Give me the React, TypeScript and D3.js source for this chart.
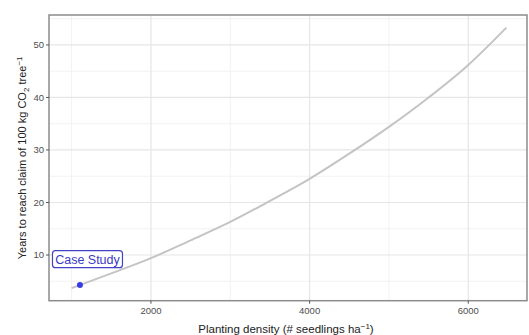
import * as d3 from "d3";

const W = 529;
const H = 335;
const MARGIN = { top: 15, right: 2, bottom: 34.3, left: 49 };

// curve
const density = [1000, 1500, 2000, 2500, 3000, 3500, 4000, 4500, 5000, 5500, 6000, 6480];
const years = [3.7, 6.5, 9.4, 12.8, 16.3, 20.3, 24.5, 29.3, 34.4, 40.0, 46.2, 53.3];

const caseStudy = { density: 1105, years: 4.3, label: "Case Study" };
const labelPos = { density: 1200, years: 9.2 };

const xTicks = [2000, 4000, 6000];
const xMinor = [1000, 3000, 5000];
const yTicks = [10, 20, 30, 40, 50];
const yMinor = [5, 15, 25, 35, 45, 55];

const FONT = "'Liberation Sans', Arial, sans-serif";

export default function App() {
  const boundsWidth = W - MARGIN.left - MARGIN.right;
  const boundsHeight = H - MARGIN.top - MARGIN.bottom;

  const xScale = d3.scaleLinear().domain([715, 6740]).range([0, boundsWidth]);
  const yScale = d3.scaleLinear().domain([1.3, 55.7]).range([boundsHeight, 0]);

  const line = d3
    .line<number>()
    .x((_, i) => xScale(density[i]))
    .y((d) => yScale(d))
    .curve(d3.curveMonotoneX);

  const lx = xScale(labelPos.density);
  const ly = yScale(labelPos.years);

  return (
    <svg
      width={W}
      height={H}
      style={{ position: "absolute", left: 0, top: 0, background: "#fff" }}
      fontFamily={FONT}
    >
      <g transform={`translate(${MARGIN.left},${MARGIN.top})`}>
        {/* grid */}
        {xMinor.map((t) => (
          <line key={"xm" + t} x1={xScale(t)} x2={xScale(t)} y1={0} y2={boundsHeight} stroke="#f2f2f2" strokeWidth={1} />
        ))}
        {yMinor.map((t) => (
          <line key={"ym" + t} x1={0} x2={boundsWidth} y1={yScale(t)} y2={yScale(t)} stroke="#f2f2f2" strokeWidth={1} />
        ))}
        {xTicks.map((t) => (
          <line key={"xg" + t} x1={xScale(t)} x2={xScale(t)} y1={0} y2={boundsHeight} stroke="#e6e6e6" strokeWidth={1.2} />
        ))}
        {yTicks.map((t) => (
          <line key={"yg" + t} x1={0} x2={boundsWidth} y1={yScale(t)} y2={yScale(t)} stroke="#e6e6e6" strokeWidth={1.2} />
        ))}

        {/* curve */}
        <path d={line(years) ?? ""} fill="none" stroke="#c4c4c4" strokeWidth={2} />

        {/* case study point + label */}
        <circle cx={xScale(caseStudy.density)} cy={yScale(caseStudy.years)} r={3} fill="#3b3be6" />
        <rect x={lx - 35} y={ly - 8.5} width={70} height={17} rx={3} fill="#fff" stroke="#4343c8" strokeWidth={1.2} />
        <text x={lx} y={ly + 4.3} textAnchor="middle" fontSize={12.5} fill="#3a3ac4">
          {caseStudy.label}
        </text>

        {/* panel border */}
        <rect x={0} y={0} width={boundsWidth} height={boundsHeight} fill="none" stroke="#8c8c8c" strokeWidth={1.5} />

        {/* x axis */}
        {xTicks.map((t) => (
          <g key={"xt" + t} transform={`translate(${xScale(t)},${boundsHeight})`}>
            <line y1={0} y2={3} stroke="#555" />
            <text y={13.5} textAnchor="middle" fontSize={9.5} fill="#4d4d4d">
              {t}
            </text>
          </g>
        ))}
        {/* y axis */}
        {yTicks.map((t) => (
          <g key={"yt" + t} transform={`translate(0,${yScale(t)})`}>
            <line x1={-3} x2={0} stroke="#555" />
            <text x={-5} dy="0.35em" textAnchor="end" fontSize={9.5} fill="#4d4d4d">
              {t}
            </text>
          </g>
        ))}
      </g>

      {/* axis titles */}
      <text x={MARGIN.left + boundsWidth / 2 - 2} y={333} textAnchor="middle" fontSize={11.5} fill="#222">
        Planting density (# seedlings ha
        <tspan dy={-4} fontSize={8}>−1</tspan>
        <tspan dy={4}>)</tspan>
      </text>
      <text
        transform={`translate(25.5,${MARGIN.top + boundsHeight / 2}) rotate(-90)`}
        textAnchor="middle"
        fontSize={11}
        fill="#222"
      >
        Years to reach claim of 100 kg CO
        <tspan dy={3} fontSize={8}>2</tspan>
        <tspan dy={-3}> tree</tspan>
        <tspan dy={-4} fontSize={8}>−1</tspan>
      </text>
    </svg>
  );
}
